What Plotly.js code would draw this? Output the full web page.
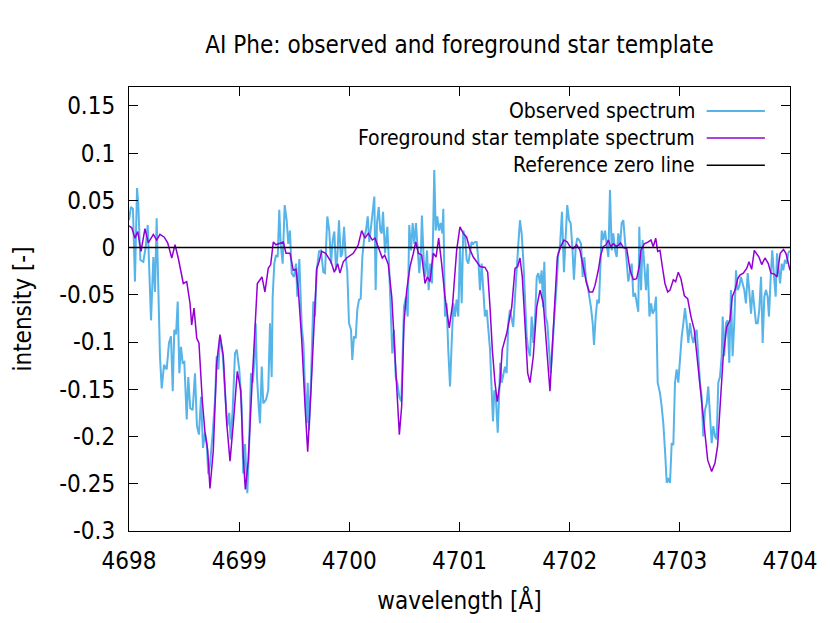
<!DOCTYPE html>
<html>
<head>
<meta charset="utf-8">
<script src="https://cdn.plot.ly/plotly-3.0.1.min.js"></script>
<style>
html,body{margin:0;padding:0;background:#fff;}
#chart{width:830px;height:623px;}
</style>
</head>
<body>
<div id="chart"></div>
<script>
// ---- data ----
const obsWavelength = [
4698.000,4698.018,4698.036,4698.054,4698.073,4698.084,4698.103,4698.130,4698.152,4698.170,
4698.182,4698.200,4698.221,4698.236,4698.251,4698.266,4698.281,4698.297,4698.318,4698.342,
4698.363,4698.381,4698.397,4698.411,4698.427,4698.442,4698.457,4698.472,4698.487,4698.502,
4698.524,4698.538,4698.556,4698.578,4698.599,4698.617,4698.635,4698.654,4698.672,4698.690,
4698.705,4698.720,4698.735,4698.760,4698.781,4698.796,4698.811,4698.826,4698.850,4698.871,
4698.892,4698.910,4698.923,4698.941,4698.962,4698.978,4699.001,4699.023,4699.037,4699.053,
4699.074,4699.092,4699.107,4699.123,4699.137,4699.150,4699.162,4699.177,4699.189,4699.205,
4699.219,4699.244,4699.264,4699.280,4699.295,4699.304,4699.319,4699.334,4699.350,4699.364,
4699.377,4699.395,4699.413,4699.431,4699.446,4699.461,4699.477,4699.498,4699.516,4699.528,
4699.546,4699.568,4699.583,4699.598,4699.613,4699.622,4699.634,4699.652,4699.673,4699.688,
4699.704,4699.725,4699.743,4699.764,4699.779,4699.800,4699.818,4699.834,4699.849,4699.864,
4699.879,4699.891,4699.906,4699.922,4699.936,4699.952,4699.967,4699.981,4699.997,4700.015,
4700.027,4700.042,4700.058,4700.072,4700.088,4700.103,4700.118,4700.136,4700.151,4700.167,
4700.181,4700.197,4700.212,4700.227,4700.239,4700.251,4700.267,4700.281,4700.294,4700.306,
4700.324,4700.345,4700.360,4700.375,4700.390,4700.405,4700.421,4700.435,4700.454,4700.472,
4700.484,4700.496,4700.514,4700.530,4700.544,4700.560,4700.575,4700.590,4700.605,4700.621,
4700.635,4700.650,4700.659,4700.675,4700.689,4700.705,4700.720,4700.735,4700.750,4700.762,
4700.771,4700.784,4700.798,4700.814,4700.829,4700.844,4700.853,4700.868,4700.883,4700.898,
4700.914,4700.929,4700.944,4700.959,4700.974,4700.989,4701.004,4701.020,4701.034,4701.050,
4701.065,4701.080,4701.095,4701.110,4701.125,4701.141,4701.156,4701.171,4701.186,4701.201,
4701.216,4701.231,4701.247,4701.261,4701.277,4701.292,4701.304,4701.316,4701.331,4701.347,
4701.361,4701.370,4701.383,4701.398,4701.413,4701.428,4701.443,4701.458,4701.474,4701.488,
4701.504,4701.519,4701.534,4701.549,4701.564,4701.579,4701.594,4701.610,4701.624,4701.640,
4701.655,4701.670,4701.685,4701.701,4701.715,4701.731,4701.746,4701.758,4701.770,4701.782,
4701.797,4701.812,4701.828,4701.842,4701.851,4701.867,4701.882,4701.897,4701.912,4701.930,
4701.948,4701.964,4701.978,4701.994,4702.009,4702.024,4702.039,4702.055,4702.069,4702.087,
4702.103,4702.118,4702.133,4702.148,4702.164,4702.178,4702.193,4702.209,4702.221,4702.236,
4702.251,4702.266,4702.275,4702.291,4702.305,4702.321,4702.336,4702.351,4702.366,4702.382,
4702.396,4702.412,4702.427,4702.441,4702.457,4702.472,4702.487,4702.502,4702.518,4702.532,
4702.548,4702.563,4702.578,4702.593,4702.608,4702.623,4702.632,4702.648,4702.662,4702.678,
4702.693,4702.708,4702.724,4702.739,4702.753,4702.769,4702.784,4702.799,4702.820,4702.835,
4702.850,4702.865,4702.881,4702.895,4702.911,4702.926,4702.941,4702.956,4702.971,4702.986,
4703.001,4703.017,4703.032,4703.047,4703.062,4703.077,4703.092,4703.108,4703.123,4703.138,
4703.153,4703.168,4703.183,4703.198,4703.213,4703.228,4703.244,4703.258,4703.274,4703.289,
4703.304,4703.319,4703.334,4703.349,4703.364,4703.380,4703.389,4703.403,4703.419,4703.434,
4703.449,4703.464,4703.479,4703.494,4703.510,4703.525,4703.540,4703.555,4703.570,4703.585,
4703.600,4703.616,4703.630,4703.646,4703.661,4703.676,4703.691,4703.707,4703.721,4703.737,
4703.752,4703.767,4703.782,4703.797,4703.809,4703.825,4703.839,4703.855,4703.870,4703.882,
4703.894,4703.910,4703.925,4703.939,4703.954,4703.970,4703.984,4704.000
];
const obsIntensity = [
0.029,0.043,0.041,-0.036,0.063,0.047,-0.013,-0.015,0.001,0.024,
-0.017,-0.077,-0.010,-0.047,0.031,-0.045,-0.115,-0.149,-0.124,-0.129,
-0.101,-0.094,-0.152,-0.087,-0.092,-0.057,-0.133,-0.105,-0.122,-0.121,
-0.182,-0.137,-0.170,-0.172,-0.133,-0.189,-0.198,-0.158,-0.212,-0.196,
-0.207,-0.240,-0.230,-0.196,-0.161,-0.115,-0.129,-0.094,-0.112,-0.151,
-0.189,-0.175,-0.203,-0.172,-0.112,-0.108,-0.129,-0.168,-0.239,-0.208,
-0.260,-0.203,-0.133,-0.143,-0.122,-0.080,-0.137,-0.168,-0.186,-0.126,
-0.165,-0.161,-0.151,-0.080,-0.137,-0.052,-0.017,-0.008,-0.010,0.040,
0.004,-0.017,0.045,0.029,0.004,0.018,-0.027,-0.031,-0.017,-0.052,
-0.012,-0.084,-0.101,-0.151,-0.186,-0.143,-0.193,-0.140,-0.057,-0.073,
-0.024,-0.004,-0.003,-0.026,-0.027,0.033,0.018,-0.017,0.008,0.017,
-0.024,-0.010,0.029,-0.010,-0.006,0.022,-0.010,-0.024,-0.080,-0.087,
-0.119,-0.094,-0.096,-0.066,-0.055,-0.054,-0.010,0.011,0.018,0.033,
0.006,0.022,0.040,0.054,-0.045,0.026,0.043,0.018,0.015,0.038,
-0.006,0.022,-0.017,-0.073,-0.112,-0.087,-0.137,-0.143,-0.158,-0.163,
-0.108,-0.063,-0.052,-0.073,0.024,-0.003,0.026,0.004,0.026,-0.010,
-0.027,-0.003,0.034,-0.013,-0.031,-0.003,-0.045,-0.017,-0.038,0.026,
0.082,0.018,0.033,0.018,0.026,0.015,0.041,-0.073,-0.059,-0.108,
-0.147,-0.101,-0.059,-0.073,-0.055,-0.073,0.001,-0.059,0.018,0.011,
-0.013,-0.017,-0.006,0.006,0.004,0.006,0.006,-0.013,-0.045,-0.017,
-0.045,-0.073,-0.066,-0.087,-0.108,-0.151,-0.184,-0.151,-0.161,-0.196,
-0.151,-0.122,-0.143,-0.133,-0.126,-0.133,-0.080,-0.066,-0.077,-0.084,
-0.052,-0.017,0.004,0.029,0.015,-0.013,-0.063,-0.094,-0.108,-0.115,
-0.073,-0.101,-0.077,-0.031,-0.027,-0.038,-0.024,-0.063,-0.015,-0.073,
-0.080,-0.108,-0.133,-0.108,-0.087,-0.063,-0.038,-0.006,0.001,0.038,
-0.026,0.011,0.045,0.029,0.026,0.001,-0.034,0.001,0.010,0.008,
0.004,-0.031,-0.010,-0.034,-0.041,-0.052,-0.063,-0.080,-0.103,-0.073,
-0.055,-0.059,-0.031,0.018,0.008,0.018,0.004,-0.010,0.061,-0.003,
0.015,-0.003,-0.010,0.015,0.001,0.026,0.029,0.008,-0.010,-0.036,
-0.026,-0.017,-0.052,-0.048,-0.058,-0.068,0.022,-0.045,0.008,-0.027,
-0.045,-0.017,-0.073,-0.059,-0.070,-0.066,-0.052,-0.143,-0.154,-0.168,
-0.186,-0.214,-0.249,-0.244,-0.249,-0.207,-0.209,-0.143,-0.129,-0.143,
-0.115,-0.094,-0.080,-0.064,-0.080,-0.101,-0.080,-0.094,-0.101,-0.091,
-0.087,-0.122,-0.143,-0.158,-0.200,-0.172,-0.165,-0.147,-0.182,-0.207,
-0.189,-0.200,-0.203,-0.143,-0.137,-0.115,-0.073,-0.115,-0.080,-0.077,
-0.122,-0.045,-0.115,-0.080,-0.024,-0.045,-0.041,-0.031,-0.038,-0.045,
-0.059,-0.027,-0.045,-0.070,-0.045,-0.066,-0.080,-0.080,-0.066,-0.031,
-0.101,-0.052,-0.045,-0.052,-0.073,-0.031,-0.003,-0.031,-0.052,-0.006,
-0.020,-0.038,-0.017,-0.024,-0.013,-0.017,-0.006,-0.003
];
const tplWavelength = [
4698.000,4698.025,4698.054,4698.079,4698.109,4698.145,4698.175,4698.221,4698.251,4698.281,
4698.320,4698.351,4698.388,4698.418,4698.447,4698.493,4698.524,4698.554,4698.569,4698.590,
4698.615,4698.635,4698.665,4698.690,4698.714,4698.735,4698.765,4698.796,4698.826,4698.856,
4698.887,4698.917,4698.947,4698.983,4699.014,4699.037,4699.056,4699.083,4699.114,4699.144,
4699.165,4699.189,4699.207,4699.234,4699.264,4699.286,4699.310,4699.334,4699.371,4699.401,
4699.425,4699.461,4699.491,4699.516,4699.537,4699.568,4699.598,4699.622,4699.652,4699.682,
4699.704,4699.725,4699.749,4699.785,4699.809,4699.834,4699.864,4699.894,4699.915,4699.945,
4699.976,4700.006,4700.036,4700.058,4700.081,4700.112,4700.142,4700.172,4700.208,4700.233,
4700.263,4700.299,4700.321,4700.354,4700.385,4700.414,4700.435,4700.454,4700.475,4700.496,
4700.521,4700.551,4700.581,4700.603,4700.627,4700.657,4700.687,4700.708,4700.732,4700.762,
4700.787,4700.811,4700.838,4700.868,4700.907,4700.938,4700.974,4701.004,4701.034,4701.065,
4701.095,4701.125,4701.156,4701.186,4701.231,4701.256,4701.277,4701.298,4701.322,4701.343,
4701.368,4701.388,4701.428,4701.474,4701.504,4701.528,4701.549,4701.570,4701.594,4701.619,
4701.640,4701.670,4701.701,4701.731,4701.761,4701.791,4701.821,4701.846,4701.867,4701.888,
4701.918,4701.948,4701.978,4702.003,4702.033,4702.064,4702.094,4702.124,4702.154,4702.178,
4702.209,4702.230,4702.260,4702.282,4702.305,4702.330,4702.351,4702.372,4702.396,4702.427,
4702.463,4702.487,4702.518,4702.548,4702.578,4702.608,4702.632,4702.647,4702.677,4702.714,
4702.738,4702.759,4702.781,4702.799,4702.820,4702.841,4702.865,4702.890,4702.911,4702.941,
4702.962,4702.986,4703.010,4703.041,4703.071,4703.101,4703.131,4703.162,4703.192,4703.222,
4703.253,4703.289,4703.319,4703.343,4703.364,4703.394,4703.425,4703.455,4703.476,4703.501,
4703.525,4703.546,4703.576,4703.607,4703.628,4703.652,4703.676,4703.697,4703.718,4703.743,
4703.773,4703.803,4703.827,4703.857,4703.882,4703.911,4703.941,4703.963,4703.987,4704.000
];
const tplIntensity = [
0.023,0.021,0.010,0.017,-0.004,0.020,0.005,0.014,0.008,0.014,
0.011,0.005,-0.011,0.003,-0.011,-0.038,-0.036,-0.059,-0.082,-0.064,
-0.096,-0.101,-0.161,-0.196,-0.214,-0.255,-0.215,-0.122,-0.092,-0.115,
-0.186,-0.226,-0.186,-0.131,-0.151,-0.221,-0.256,-0.225,-0.151,-0.087,
-0.038,-0.034,-0.031,-0.047,-0.022,-0.018,0.006,0.003,0.005,0.006,
-0.006,-0.006,-0.024,-0.023,-0.045,-0.098,-0.168,-0.216,-0.151,-0.080,
-0.022,-0.015,-0.004,-0.006,-0.010,-0.015,-0.026,-0.017,-0.027,-0.015,
-0.011,-0.008,-0.006,-0.002,0.003,0.018,0.010,0.015,0.008,0.010,
0.001,-0.011,-0.008,-0.018,-0.052,-0.115,-0.168,-0.198,-0.168,-0.080,
-0.045,-0.020,-0.006,0.006,-0.006,-0.008,-0.038,-0.031,-0.036,-0.006,
-0.010,0.010,-0.017,-0.052,-0.085,-0.059,-0.003,0.022,0.015,0.011,
-0.002,-0.010,-0.015,-0.020,-0.021,-0.026,-0.063,-0.108,-0.143,-0.163,
-0.143,-0.108,-0.091,-0.063,-0.022,-0.020,-0.011,-0.031,-0.080,-0.133,
-0.143,-0.115,-0.063,-0.045,-0.059,-0.108,-0.152,-0.098,-0.052,-0.010,
0.001,0.008,0.006,0.001,-0.001,0.003,-0.003,-0.020,-0.038,-0.047,
-0.047,-0.040,-0.024,-0.008,0.001,0.003,0.008,0.001,0.004,0.001,
0.005,0.000,-0.001,-0.024,-0.034,-0.033,-0.020,-0.003,0.004,0.006,
0.008,0.001,0.010,-0.004,-0.003,-0.020,-0.038,-0.047,-0.045,-0.034,
-0.036,-0.026,-0.033,-0.051,-0.054,-0.073,-0.087,-0.122,-0.158,-0.193,
-0.225,-0.237,-0.228,-0.210,-0.168,-0.115,-0.084,-0.077,-0.052,-0.045,
-0.033,-0.029,-0.027,-0.022,-0.015,-0.023,-0.003,-0.006,-0.010,-0.018,
-0.011,-0.017,-0.027,-0.028,-0.031,-0.006,-0.002,-0.006,-0.017,-0.024
];
const zeroWavelength = [4698, 4704];
const zeroIntensity = [0, 0];
const seriesNames = ["Observed spectrum", "Foreground star template spectrum", "Reference zero line"];
const seriesColors = ["#56B4E9", "#9400D3", "#000000"];
const xTickVals = [4698, 4699, 4700, 4701, 4702, 4703, 4704];
const xTickText = ["4698", "4699", "4700", "4701", "4702", "4703", "4704"];
const yTickVals = [-0.3, -0.25, -0.2, -0.15, -0.1, -0.05, 0, 0.05, 0.1, 0.15];
const yTickText = ["-0.3", "-0.25", "-0.2", "-0.15", "-0.1", "-0.05", "0", "0.05", "0.1", "0.15"];

// ---- chart ----
const FONT = '"DejaVu Sans Condensed", "DejaVu Sans", sans-serif';
const FS = 24;
const LEGEND_FS = 21;
const traces = [
  {x: obsWavelength, y: obsIntensity, name: seriesNames[0], type: 'scatter', mode: 'lines',
   line: {color: seriesColors[0], width: 2}},
  {x: tplWavelength, y: tplIntensity, name: seriesNames[1], type: 'scatter', mode: 'lines',
   line: {color: seriesColors[1], width: 1.5}},
  {x: zeroWavelength, y: zeroIntensity, name: seriesNames[2], type: 'scatter', mode: 'lines',
   line: {color: seriesColors[2], width: 1.5}}
];

const legendY = [0.946, 0.885, 0.824];
const annotations = [];
const shapes = [];
for (let i = 0; i < seriesNames.length; i++) {
  annotations.push({xref: 'paper', yref: 'paper', x: 0.859, y: legendY[i], xanchor: 'right', yanchor: 'middle',
    text: seriesNames[i], showarrow: false, font: {family: FONT, size: LEGEND_FS, color: '#000'}});
  shapes.push({type: 'line', xref: 'paper', yref: 'paper', x0: 0.874, x1: 0.962, y0: legendY[i], y1: legendY[i],
    line: {color: seriesColors[i], width: i === 0 ? 2 : 1.5}});
}

const layout = {
  width: 830, height: 623,
  margin: {l: 129, r: 40, t: 87, b: 92, pad: 0},
  paper_bgcolor: '#fff', plot_bgcolor: '#fff',
  showlegend: false,
  font: {family: FONT, size: FS, color: '#000'},
  title: {text: 'AI Phe: observed and foreground star template', x: 0.5, xref: 'paper', xanchor: 'center',
    y: 1 - 45/623, yref: 'container', yanchor: 'middle', font: {family: FONT, size: FS, color: '#000'}},
  xaxis: {
    range: [4698, 4704], tickmode: 'array', tickvals: xTickVals, ticktext: xTickText,
    ticks: 'inside', ticklen: 9, tickwidth: 1, tickcolor: '#000',
    showline: true, linecolor: '#000', linewidth: 1, mirror: 'ticks',
    showgrid: false, zeroline: false, ticklabelstandoff: 8,
    tickfont: {family: FONT, size: FS, color: '#000'},
    title: {text: 'wavelength [Å]', standoff: 18, font: {family: FONT, size: FS, color: '#000'}}
  },
  yaxis: {
    range: [-0.3, 0.17], tickmode: 'array', tickvals: yTickVals, ticktext: yTickText,
    ticks: 'inside', ticklen: 9, tickwidth: 1, tickcolor: '#000',
    showline: true, linecolor: '#000', linewidth: 1, mirror: 'ticks',
    showgrid: false, zeroline: false, ticklabelstandoff: 8,
    tickfont: {family: FONT, size: FS, color: '#000'},
    title: {text: 'intensity [-]', standoff: 20, font: {family: FONT, size: FS, color: '#000'}}
  },
  annotations: annotations,
  shapes: shapes
};

Plotly.newPlot('chart', traces, layout, {staticPlot: true, displayModeBar: false});
</script>
</body>
</html>
